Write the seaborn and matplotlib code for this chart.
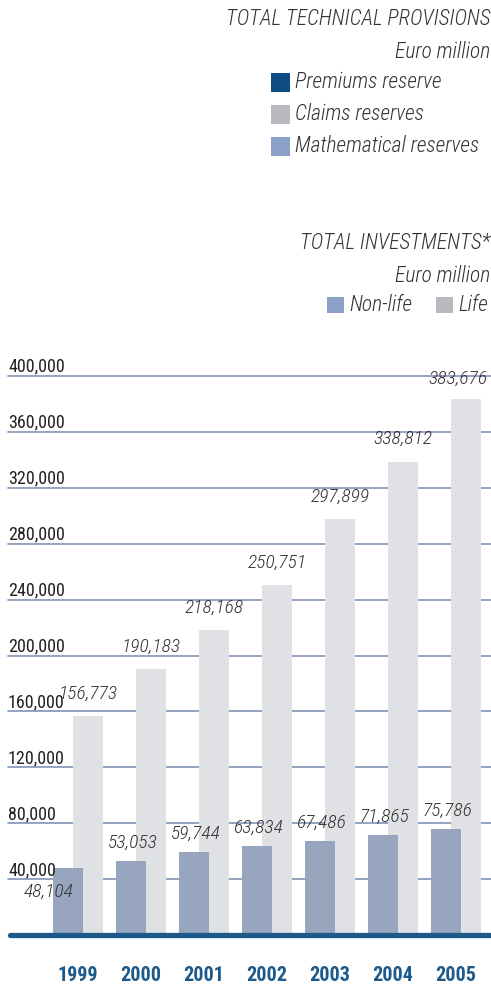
import numpy as np
import pandas as pd
import matplotlib
matplotlib.use("Agg")
import matplotlib.pyplot as plt
import matplotlib.transforms as mtransforms
from matplotlib.patches import Rectangle
from matplotlib import font_manager
import seaborn as sns

# ---------------- data ----------------
years = ["1999", "2000", "2001", "2002", "2003", "2004", "2005"]
non_life = [48104, 53053, 59744, 63834, 67486, 71865, 75786]
life = [156773, 190183, 218168, 250751, 297899, 338812, 383676]
y_ticks = [40000, 80000, 120000, 160000, 200000, 240000, 280000, 320000, 360000, 400000]
provisions_legend = ["Premiums reserve", "Claims reserves", "Mathematical reserves"]
investments_legend = ["Non-life", "Life"]

# ---------------- style ----------------
sns.set_theme(style="white")
names = {f.name for f in font_manager.fontManager.ttflist}
COND = "DejaVu Sans"
for cand in ["Roboto Condensed", "Fira Sans Condensed", "Archivo Narrow", "PT Sans Narrow"]:
    if cand in names:
        COND = cand
        break
plt.rcParams["font.family"] = [COND, "DejaVu Sans"]

TEXT = "#333333"
NONLIFE_BAR = "#97a5be"
LIFE_BAR = "#e0e1e4"
DARK_BLUE = "#1d5a8c"
GRID = "#8193b6"
PREM = "#0f4c84"
CLAIMS = "#b9babf"
MATH = "#8aa0c7"

W, H = 491, 985
fig = plt.figure(figsize=(W / 100, H / 100), dpi=100)
fig.patch.set_facecolor("white")

def fx(px):
    return px / W

def fy(py):
    return 1 - py / H

hdr = dict(style="italic", color=TEXT, fontweight="light", fontsize=15.5)

# ---------------- header texts ----------------
fig.text(fx(490), fy(19), "TOTAL TECHNICAL PROVISIONS", ha="right", va="center", **hdr)
fig.text(fx(490), fy(52), "Euro million", ha="right", va="center", **hdr)
for i, (lab, col) in enumerate(zip(provisions_legend, [PREM, CLAIMS, MATH])):
    cy = 82 + 32 * i
    fig.add_artist(Rectangle((fx(271), fy(cy + 9.5)), 19 / W, 19 / H,
                             transform=fig.transFigure, color=col, lw=0))
    fig.text(fx(295), fy(cy), lab, ha="left", va="center", **hdr)

fig.text(fx(490), fy(243), "TOTAL INVESTMENTS*", ha="right", va="center", **hdr)
fig.text(fx(490), fy(276), "Euro million", ha="right", va="center", **hdr)
for lab, col, sx in zip(investments_legend, [MATH, CLAIMS], [327, 436]):
    cy = 305
    fig.add_artist(Rectangle((fx(sx), fy(cy + 8)), 17 / W, 16 / H,
                             transform=fig.transFigure, color=col, lw=0))
    fig.text(fx(sx + 22), fy(cy), lab, ha="left", va="center", **hdr)

# ---------------- bar chart ----------------
ax = fig.add_axes([fx(8), 50 / H, 483 / W, 559 / H])
ax.set_facecolor("none")

idx = np.arange(len(years))
off = 10 / 63.0
bar_w = 30 / 63.0

df_life = pd.DataFrame({"pos": idx + off, "value": life})
df_non = pd.DataFrame({"pos": idx - off, "value": non_life})

for v in y_ticks:
    ax.axhline(v, color=GRID, lw=1.2, zorder=0, clip_on=False)

sns.barplot(data=df_life, x="pos", y="value", native_scale=True, width=bar_w,
            color=LIFE_BAR, saturation=1, errorbar=None, ax=ax, zorder=2)
sns.barplot(data=df_non, x="pos", y="value", native_scale=True, width=bar_w,
            color=NONLIFE_BAR, saturation=1, errorbar=None, ax=ax, zorder=3)
for p in ax.patches:
    p.set_linewidth(0)

ax.axhline(0, xmin=2 / 483, color=DARK_BLUE, lw=3.8, zorder=5, clip_on=False)

xmin = -70 / 63.0
ax.set_xlim(xmin, xmin + 483 / 63.0)
ax.set_ylim(0, 400000)
for s in ax.spines.values():
    s.set_visible(False)

ax.set_xticks(idx)
ax.set_xticklabels(years, fontsize=14.5, fontweight="bold", color=DARK_BLUE)
ax.tick_params(axis="x", length=0, pad=22)
ax.set_yticks([])
ax.set_xlabel("")
ax.set_ylabel("")

# y tick labels, left-aligned above gridlines
trans = mtransforms.blended_transform_factory(ax.transAxes, ax.transData)
for v in y_ticks:
    ax.annotate(f"{v:,}", xy=(0, v), xycoords=trans, xytext=(0, 3),
                textcoords="offset points", ha="left", va="baseline",
                fontsize=13, color="#222222", zorder=6)

# value labels
lab_kw = dict(ha="center", va="center", fontsize=14, style="italic",
              fontweight="light", color=TEXT, zorder=6, textcoords="offset points")
for i, v in enumerate(life):
    dx = -6 if i == len(life) - 1 else 0
    dy = 14.5 if i == len(life) - 1 else 16
    ax.annotate(f"{v:,}", xy=(i + off, v), xytext=(dx, dy), **lab_kw)
for i, v in enumerate(non_life):
    if i == 0:
        dx, dy = -14, -17
    else:
        dx, dy = 1, 13
    ax.annotate(f"{v:,}", xy=(i - off, v), xytext=(dx, dy), **lab_kw)

fig.savefig("out.png", dpi=100)
